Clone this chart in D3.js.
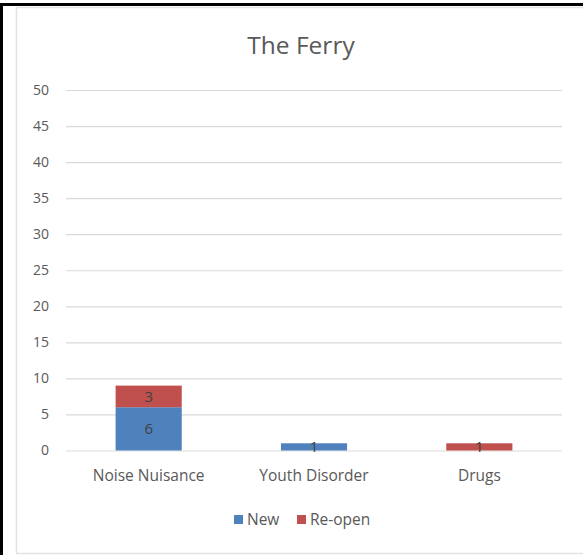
<!DOCTYPE html>
<meta charset="utf-8">
<style>
  body { margin: 0; background: #fff; }
  text { font-family: "Open Sans", sans-serif; fill: #595959; }
  .grid line { stroke: #d9d9d9; stroke-width: 1.2; }
  .grid path { display: none; }
  .axis path, .axis line { display: none; }
</style>
<body>
<script src="https://d3js.org/d3.v7.min.js"></script>
<script>
var categories = ["Noise Nuisance", "Youth Disorder", "Drugs"];
var seriesNames = ["New", "Re-open"];
var newVals = [6, 1, 0];
var reopenVals = [3, 0, 1];
var yTicks = [0, 5, 10, 15, 20, 25, 30, 35, 40, 45, 50];
var colors = ["#4f81bd", "#c0504d"];

var W = 583, H = 555;
var plot = {left: 66, right: 562, top: 90, bottom: 450.5};

var svg = d3.select("body").append("svg")
  .attr("width", W).attr("height", H);

// outer frame (black) and chart area border (gray)
svg.append("rect").attr("x", 0).attr("y", 3).attr("width", W).attr("height", 3).attr("fill", "#000");
svg.append("rect").attr("x", 0).attr("y", 3).attr("width", 3).attr("height", H).attr("fill", "#000");
svg.append("rect").attr("x", 16.5).attr("y", 7.5).attr("width", W).attr("height", 546)
  .attr("fill", "#fff").attr("stroke", "#e3e3e3").attr("stroke-width", 1.5);

var x = d3.scaleBand().domain(categories).range([plot.left, plot.right]).paddingInner(0.6).paddingOuter(0.3);
var y = d3.scaleLinear().domain([0, 50]).range([plot.bottom, plot.top]);

// gridlines
svg.append("g").attr("class", "grid")
  .attr("transform", "translate(" + plot.left + ",0)")
  .call(d3.axisLeft(y).tickValues(yTicks).tickSize(-(plot.right - plot.left)).tickFormat(""));

// y labels
svg.append("g").attr("class", "axis")
  .attr("transform", "translate(" + (plot.left - 17) + ",0)")
  .call(d3.axisLeft(y).tickValues(yTicks).tickSize(0).tickPadding(0))
  .selectAll("text").style("font-size", "14px").style("font-family", "Open Sans").attr("fill", "#595959");

// x labels
svg.append("g").attr("class", "axis")
  .attr("transform", "translate(0," + (plot.bottom + 15) + ")")
  .call(d3.axisBottom(x).tickSize(0).tickPadding(4))
  .selectAll("text").style("font-size", "15.5px").style("font-family", "Open Sans").attr("fill", "#595959");

var stackData = categories.map(function(c, i) { return {cat: c, "New": newVals[i], "Re-open": reopenVals[i]}; });
var series = d3.stack().keys(seriesNames)(stackData);

var groups = svg.selectAll(".series").data(series).enter().append("g")
  .attr("fill", function(d, i) { return colors[i]; });

groups.selectAll("rect").data(function(d) { return d; }).enter().append("rect")
  .attr("x", function(d) { return x(d.data.cat); })
  .attr("width", x.bandwidth())
  .attr("y", function(d) { return y(d[1]); })
  .attr("height", function(d) { return y(d[0]) - y(d[1]); });

groups.selectAll("text").data(function(d) { return d.filter(function(p) { return p[1] - p[0] > 0; }); })
  .enter().append("text")
  .attr("x", function(d) { return x(d.data.cat) + x.bandwidth() / 2; })
  .attr("y", function(d) { return (y(d[0]) + y(d[1])) / 2; })
  .attr("dy", "0.35em")
  .attr("text-anchor", "middle")
  .style("font-size", "15px").style("fill", "#404040")
  .text(function(d) { return d[1] - d[0]; });

// title
svg.append("text").attr("x", 301).attr("y", 54).attr("text-anchor", "middle")
  .style("font-size", "24.5px").text("The Ferry");

// legend
var legend = svg.append("g").attr("transform", "translate(234,520)");
var legX = [0, 63];
seriesNames.forEach(function(s, i) {
  var g = legend.append("g").attr("transform", "translate(" + legX[i] + ",0)");
  g.append("rect").attr("x", 0).attr("y", -5).attr("width", 9).attr("height", 9).attr("fill", colors[i]);
  g.append("text").attr("x", 13).attr("y", 0).attr("dy", "0.35em").style("font-size", "15.5px").text(s);
});
</script>
</body>
